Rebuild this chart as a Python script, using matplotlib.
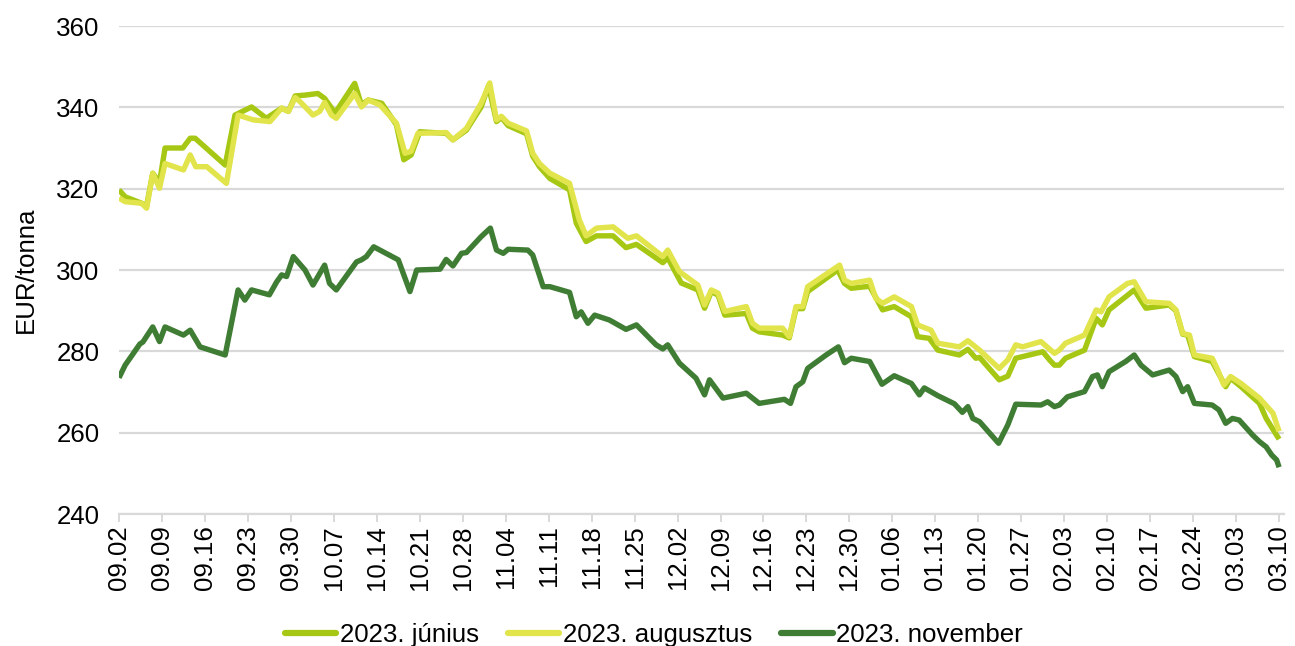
import matplotlib
matplotlib.use("Agg")
import matplotlib.pyplot as plt
from datetime import date, timedelta

plt.rcParams['font.family'] = ['Liberation Sans', 'DejaVu Sans']

# ---------------- data ----------------
base_date = date(2022, 9, 2)          # first day on the x axis
tick_days = list(range(0, 190, 7))    # weekly ticks 09.02 ... 03.10
y_ticks = [240, 260, 280, 300, 320, 340, 360]

series_names = ["2023. június", "2023. augusztus", "2023. november"]

jun_days = [0, 1.0, 3.7, 4.5, 5.5, 6.6, 7.5, 10.4, 11.6, 12.4, 17.3, 18.9, 21.6, 24.0,
            26.5, 27.6, 28.7, 30.3, 32.4, 33.5, 35.2, 38.4, 39.5, 40.6, 42.8, 45.2,
            46.4, 47.6, 49.0, 53.3, 54.4, 56.6, 59.0, 60.2, 61.5, 62.3, 63.4, 66.4,
            67.4, 68.5, 70.2, 73.4, 74.5, 76.1, 77.8, 80.5, 82.6, 84.3, 88.6, 89.4,
            91.6, 94.3, 95.4, 96.5, 97.6, 98.7, 102.2, 103.2, 104.3, 108.1, 109.2,
            110.3, 111.4, 112.2, 117.1, 118.2, 119.3, 122.3, 124.4, 126.3, 129.1,
            130.1, 132.0, 133.4, 136.9, 138.3, 139.6, 140.2, 143.4, 144.8, 146.1,
            147.2, 150.5, 151.6, 152.4, 153.2, 154.2, 157.3, 159.2, 160.2, 161.3,
            165.4, 167.3, 171.1, 172.2, 173.3, 174.1, 175.2, 178.1, 180.3, 181.1,
            182.8, 185.8, 186.9, 189.0]
jun_vals = [319.7, 318.0, 316.4, 315.8, 323.8, 321.5, 330.0, 330.0, 332.4, 332.4, 325.8,
            338.1, 340.1, 337.3, 339.8, 339.0, 342.8, 343.0, 343.4, 342.2, 338.6, 345.9,
            340.6, 341.8, 341.0, 335.7, 327.1, 328.3, 334.0, 333.6, 332.0, 334.4, 340.1,
            345.3, 336.5, 337.5, 335.5, 333.5, 328.0, 325.4, 322.5, 319.7, 311.5, 307.0,
            308.4, 308.4, 305.5, 306.3, 301.8, 303.0, 296.8, 295.1, 290.6, 294.7, 293.8,
            288.9, 289.3, 285.7, 284.8, 284.0, 283.3, 290.5, 290.5, 294.7, 300.0, 296.7,
            295.5, 296.0, 290.2, 291.0, 288.5, 283.6, 283.2, 280.3, 279.1, 280.5, 278.3,
            278.5, 273.0, 273.9, 278.3, 278.7, 279.9, 277.9, 276.6, 276.6, 278.3, 280.3,
            288.1, 286.5, 290.2, 295.1, 290.6, 291.4, 290.0, 284.2, 284.0, 278.7, 277.5,
            271.3, 273.4, 271.3, 267.2, 263.5, 258.4]

aug_days = [0, 1.0, 3.7, 4.5, 5.5, 6.6, 7.5, 10.5, 11.6, 12.5, 14.3, 17.5, 19.4, 21.9,
            24.6, 26.5, 27.6, 28.7, 29.5, 31.6, 32.7, 33.5, 34.6, 35.4, 38.4, 39.5,
            40.6, 42.5, 45.2, 46.6, 47.6, 48.7, 53.3, 54.4, 56.6, 59.0, 60.4, 61.5,
            62.3, 63.4, 66.4, 67.4, 68.5, 70.2, 73.4, 75.0, 76.1, 77.8, 80.5, 82.9,
            84.3, 88.6, 89.4, 91.3, 94.3, 95.4, 96.5, 97.6, 98.7, 102.2, 103.2, 104.3,
            108.1, 109.2, 110.3, 111.4, 112.2, 117.4, 118.2, 119.3, 122.3, 123.3,
            124.4, 126.3, 129.1, 130.1, 132.3, 133.4, 136.9, 138.3, 140.2, 143.4,
            144.8, 146.1, 147.2, 150.2, 152.4, 153.2, 154.2, 157.3, 159.2, 160.0,
            161.3, 164.3, 165.4, 167.3, 171.1, 172.2, 173.3, 174.4, 175.2, 178.1,
            178.9, 180.0, 181.1, 182.8, 185.8, 188.0, 189.0]
aug_vals = [317.7, 316.8, 316.4, 315.2, 323.8, 320.1, 326.2, 324.6, 328.3, 325.4, 325.4,
            321.3, 338.1, 336.9, 336.5, 339.8, 339.0, 342.4, 341.4, 338.1, 339.0, 341.2,
            338.1, 337.3, 343.4, 340.1, 341.8, 340.6, 336.1, 328.7, 329.2, 333.6, 333.8,
            332.0, 334.8, 341.0, 346.0, 336.9, 337.8, 336.1, 334.2, 328.7, 326.2, 323.8,
            321.3, 312.3, 308.4, 310.3, 310.6, 307.8, 308.4, 303.3, 304.9, 299.6, 296.3,
            291.4, 295.1, 294.3, 289.8, 291.0, 286.9, 285.7, 285.7, 283.6, 291.0, 291.0,
            295.9, 301.2, 297.5, 296.7, 297.5, 293.0, 291.8, 293.4, 291.0, 286.5, 285.2,
            282.0, 281.1, 282.6, 280.3, 275.8, 277.9, 281.6, 281.1, 282.4, 279.5, 280.3,
            282.0, 284.0, 290.2, 289.7, 293.4, 296.7, 297.1, 292.2, 291.8, 290.2, 284.4,
            284.0, 279.1, 278.3, 275.8, 271.7, 273.8, 272.1, 268.5, 264.8, 260.3]

nov_days = [0, 1.0, 3.4, 3.9, 5.5, 6.6, 7.5, 10.5, 11.6, 13.2, 17.3, 19.4, 20.5, 21.6,
            24.5, 25.7, 26.5, 27.3, 28.4, 30.3, 31.6, 33.5, 34.3, 35.4, 38.7, 39.5,
            40.3, 41.5, 45.5, 47.4, 48.5, 52.3, 53.3, 54.4, 55.8, 56.6, 59.0, 60.5,
            61.5, 62.6, 63.4, 66.6, 67.4, 69.1, 70.2, 73.4, 74.5, 75.3, 76.4, 77.5,
            79.9, 82.6, 84.3, 87.5, 88.6, 89.4, 91.3, 94.0, 95.4, 96.2, 98.4, 102.2,
            104.3, 108.4, 109.4, 110.3, 111.4, 112.2, 115.2, 117.2, 118.2, 119.3,
            122.3, 124.3, 126.3, 129.1, 130.4, 131.2, 133.4, 136.1, 137.4, 138.3,
            139.1, 140.2, 143.3, 144.8, 146.1, 150.2, 151.3, 152.4, 153.2, 154.5,
            157.3, 158.6, 159.4, 160.2, 161.3, 164.0, 165.4, 166.5, 168.4, 171.1,
            172.2, 173.3, 174.1, 175.2, 178.1, 179.2, 180.3, 181.4, 182.5, 184.7,
            185.8, 186.9, 187.8, 188.6, 189.0]
nov_vals = [273.5, 276.6, 281.8, 282.3, 286.0, 282.4, 286.0, 284.0, 285.2, 281.1, 279.1,
            295.1, 292.6, 295.1, 293.9, 297.1, 298.8, 298.4, 303.3, 300.0, 296.3, 301.2,
            296.7, 295.1, 302.0, 302.5, 303.3, 305.7, 302.5, 294.7, 300.0, 300.2, 302.6,
            301.0, 304.1, 304.3, 308.2, 310.3, 304.9, 304.1, 305.1, 304.9, 303.7, 295.9,
            295.9, 294.5, 288.5, 289.7, 286.9, 288.9, 287.7, 285.4, 286.5, 281.6, 280.6,
            281.6, 277.1, 273.4, 269.3, 273.0, 268.5, 269.7, 267.2, 268.2, 267.2, 271.3,
            272.5, 275.8, 279.1, 281.1, 277.2, 278.3, 277.5, 271.9, 274.0, 272.1, 269.3,
            271.0, 269.1, 267.1, 265.0, 266.4, 263.5, 262.7, 257.4, 261.9, 267.0, 266.8,
            267.6, 266.4, 266.8, 268.8, 270.1, 273.8, 274.2, 271.3, 275.0, 277.5, 279.1,
            276.6, 274.2, 275.4, 273.8, 270.1, 271.3, 267.2, 266.8, 265.6, 262.3, 263.5,
            263.1, 259.4, 257.8, 256.5, 254.5, 253.3, 251.5]

colors = ["#A6C814", "#E2E44C", "#407D34"]

# ---------------- figure ----------------
W, H = 1295, 646
fig = plt.figure(figsize=(W / 100, H / 100), dpi=100)
ax = fig.add_axes([119 / W, 1 - 514 / H, (1284 - 119) / W, (514 - 26) / H])

for days, vals, name, col, z in zip([jun_days, aug_days, nov_days],
                                     [jun_vals, aug_vals, nov_vals],
                                     series_names, colors, [3, 4, 5]):
    ax.plot(days, vals, color=col, lw=3.9, label=name, zorder=z,
            solid_joinstyle='round', solid_capstyle='butt')

ax.set_xlim(0, 189.8)
ax.set_ylim(240, 360)
ax.set_yticks(y_ticks)
ax.set_xticks(tick_days)
ax.set_xticklabels([(base_date + timedelta(days=d)).strftime("%m.%d") for d in tick_days],
                   rotation=90)

fs = 18.6
grid_col = "#D9D9D9"
ax.grid(axis='y', color=grid_col, lw=1.6, zorder=0)
ax.set_axisbelow(True)
for s in ['top', 'right', 'left']:
    ax.spines[s].set_visible(False)
ax.spines['bottom'].set_color(grid_col)
ax.spines['bottom'].set_linewidth(1.6)
ax.tick_params(axis='x', colors=grid_col, length=6, width=1.4, labelcolor='black',
               labelsize=fs, pad=2)
ax.tick_params(axis='y', length=0, labelsize=fs, pad=14, labelcolor='black')

ax.set_ylabel("EUR/tonna", fontsize=fs, labelpad=13)

leg = fig.legend(loc='lower center', bbox_to_anchor=(0.505, -0.038), ncol=3, frameon=False,
                 fontsize=fs, handlelength=2.0, handletextpad=0.15, columnspacing=1.1)
for h in leg.get_lines():
    h.set_linewidth(4.5)
    h.set_solid_capstyle('round')

fig.savefig("out.png", dpi=100)
